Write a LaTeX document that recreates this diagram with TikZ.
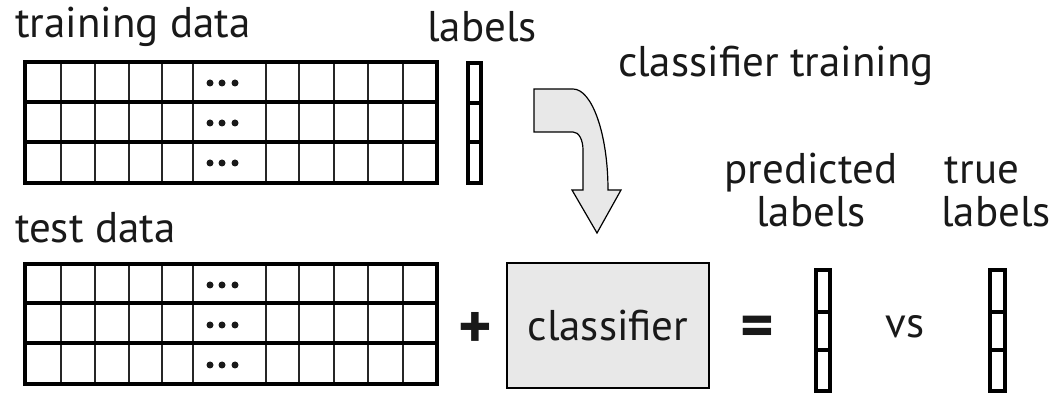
\documentclass[tikz,border=0pt]{standalone}
\usepackage{fontspec}
\setmainfont{PT Sans}
\usepackage{tikz}
\definecolor{boxgray}{rgb}{0.91,0.91,0.91}
\definecolor{ink}{rgb}{0.1,0.1,0.1}

\begin{document}
\begin{tikzpicture}[x=1pt,y=-1pt,font=\fontsize{43}{50}\selectfont]
	\tikzstyle{every node}=[inner sep=0pt,outer sep=0pt,text=ink]
	\tikzstyle{word}=[anchor=base west]
	\tikzstyle{cword}=[anchor=base]
	\tikzstyle{frame}=[draw=black,line width=4pt]
	\tikzstyle{sepline}=[draw=black,line width=3.5pt]
	\tikzstyle{cell}=[draw=black!85,line width=1.5pt]
	\tikzstyle{shade}=[fill=boxgray,draw=black,line width=1.2pt]
	\tikzstyle{sign}=[font=\fontsize{64}{70}\selectfont\bfseries]
	\useasboundingbox (0,0) rectangle (1050,403);

	% texts
	\node[word] (train) at (15,38) {training data};
	\node[word] (test) at (15,243) {test data};
	\node[cword] (lbl) at (482,42) {labels};
	\node[word] (clftrain) at (618,77) {classifier training};
	\node[cword] (pred1) at (811,184) {predicted};
	\node[cword] (pred2) at (811,227) {labels};
	\node[cword] (true1) at (982,184) {true};
	\node[cword] (true2) at (996,227) {labels};

	% data grids
	\foreach \top/\a/\b/\bot in {62/102/142/183, 264/303/343/384} {
		\foreach \x in {61,95,129,162,193,266,299,334,368,403}
			\draw[cell] (\x,\top) -- (\x,\bot);
		\draw[sepline] (24.5,\a) -- (436.5,\a) (24.5,\b) -- (436.5,\b);
		\draw[frame] (24.5,\top) rectangle (436.5,\bot);
	}
	\foreach \y in {83,123,163,285,325,365}
		\foreach \x in {210,222,235}
			\fill[ink] (\x,\y) circle (3.5);

	% label columns
	\foreach \l/\r/\top/\a/\b/\bot in {468/481/63/103/142/183, 816/830/270/312/350/391, 990/1005/270/312/350/391} {
		\draw[sepline] (\l,\a) -- (\r,\a) (\l,\b) -- (\r,\b);
		\draw[frame] (\l,\top) rectangle (\r,\bot);
	}

	% training arrow
	\draw[shade] (534,89) -- (534,132) -- (573,132)
		.. controls (579,132) and (583,140) .. (583,150) -- (583,190)
		-- (572,190) -- (597,233) -- (621,190) -- (608,190)
		.. controls (608,134) and (592,89) .. (573,89) -- cycle;

	% classifier
	\node[shade,rectangle,minimum width=202,minimum height=125] (clf) at (608,325.5) {classifier};
	\node[sign] (plus) at (475,330) {+};
	\node[sign] (equal) at (757,332) {=};
	\node[cword] (vs) at (905,338) {vs};
\end{tikzpicture}
\end{document}
